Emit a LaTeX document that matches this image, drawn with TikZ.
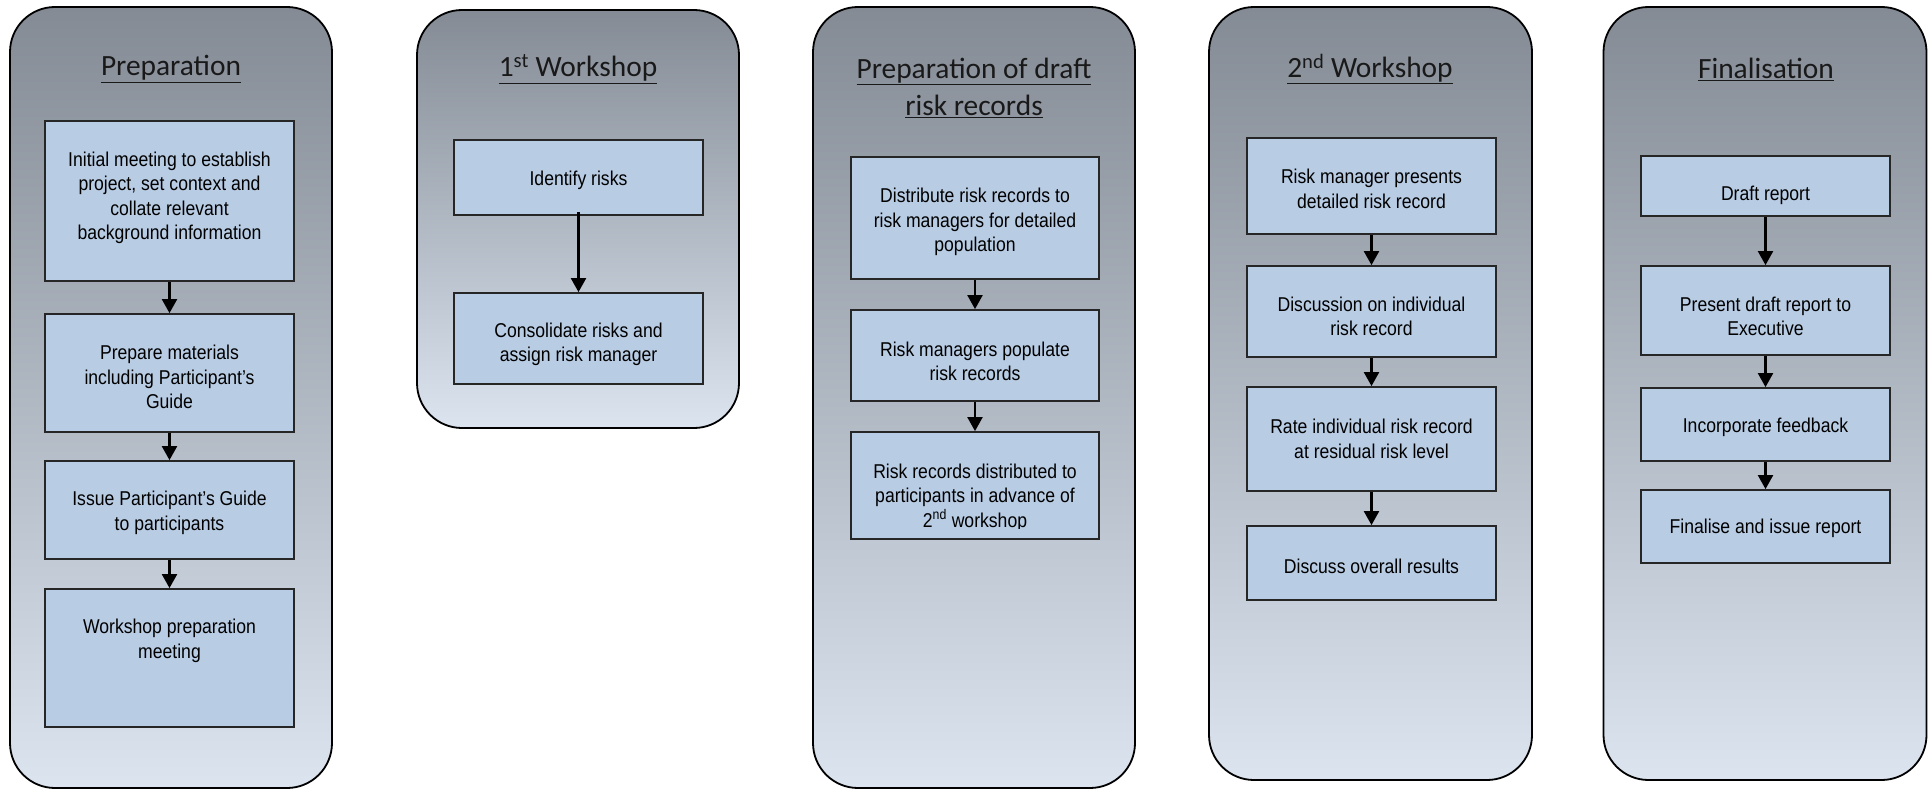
\documentclass[tikz,border=0pt]{standalone}
\usepackage{fontspec}
\usetikzlibrary{arrows.meta}
\newfontfamily\narrowfont{Liberation Sans}[FakeStretch=0.88]
\newfontfamily\titlefont{Carlito}
\definecolor{panTop}{HTML}{848B95}
\definecolor{panBot}{HTML}{DBE4EF}
\definecolor{boxFill}{HTML}{B8CCE4}
\tikzset{
  panel/.style={draw=black, line width=1.8pt, rounded corners=45pt, top color=panTop, bottom color=panBot, inner sep=0pt},
  stepbox/.style={draw=black!85, line width=1.8pt, fill=boxFill, inner sep=0pt},
  steptext/.style={align=center, font=\narrowfont\fontsize{20}{24.5}\selectfont, text=black, inner sep=0pt},
  ttl/.style={align=center, font=\titlefont\fontsize{29.4}{37}\selectfont, text=black!90, inner sep=0pt},
  arr/.style={line width=2.2pt, -{Triangle[length=14pt,width=15pt]}}
}
\begin{document}
\begin{tikzpicture}[x=1pt,y=-1pt]
\useasboundingbox (0,0) rectangle (1928,789);
% panels
\node[panel, minimum width=322pt, minimum height=781pt] (p1) at (171,397.5) {};
\node[panel, minimum width=322pt, minimum height=418pt] (p2) at (578,219) {};
\node[panel, minimum width=322pt, minimum height=781pt] (p3) at (974,397.5) {};
\node[panel, minimum width=323pt, minimum height=773pt] (p4) at (1370.5,393.5) {};
\node[panel, minimum width=323pt, minimum height=773pt] (p5) at (1765,393.5) {};
% titles
\node[ttl] (t1) at (171,69) {\underline{Preparation}};
\node[ttl] (t2) at (578,69) {\underline{1\textsuperscript{st} Workshop}};
\node[ttl] (t3) at (974,87.5) {\underline{Preparation of draft}\\\underline{risk records}};
\node[ttl] (t4) at (1370,69) {\underline{2\textsuperscript{nd} Workshop}};
\node[ttl] (t5) at (1766,69) {\underline{Finalisation}};
% Panel 1
\node[stepbox, minimum width=249pt, minimum height=160pt] (a1) at (169.5,201) {};
\node[steptext] (a1t) at ([yshift=3pt]a1.center) {Initial meeting to establish\\project, set context and\\collate relevant\\background information};
\node[stepbox, minimum width=249pt, minimum height=118pt] (a2) at (169.5,373) {};
\node[steptext] (a2t) at ([yshift=-4pt]a2.center) {Prepare materials\\including Participant’s\\Guide};
\node[stepbox, minimum width=249pt, minimum height=98pt] (a3) at (169.5,510) {};
\node[steptext] (a3t) at ([yshift=-3pt]a3.center) {Issue Participant’s Guide\\to participants};
\node[stepbox, minimum width=249pt, minimum height=138pt] (a4) at (169.5,658) {};
\node[steptext] (a4t) at ([yshift=17pt]a4.center) {Workshop preparation\\meeting};
\draw[arr] (a1.south) -- (a2.north);
\draw[arr] (a2.south) -- (a3.north);
\draw[arr] (a3.south) -- (a4.north);
% Panel 2
\node[stepbox, minimum width=249pt, minimum height=75pt] (b1) at (578.5,177.5) {};
\node[steptext] (b1t) at ([yshift=-3pt]b1.center) {Identify risks};
\node[stepbox, minimum width=249pt, minimum height=91pt] (b2) at (578.5,338.5) {};
\node[steptext] (b2t) at ([yshift=-6pt]b2.center) {Consolidate risks and\\assign risk manager};
\draw[arr] ([yshift=4pt]b1.south) -- (b2.north);
% Panel 3
\node[stepbox, minimum width=248pt, minimum height=122pt] (c1) at (975,218) {};
\node[steptext] (c1t) at ([yshift=-4pt]c1.center) {Distribute risk records to\\risk managers for detailed\\population};
\node[stepbox, minimum width=248pt, minimum height=91pt] (c2) at (975,355.5) {};
\node[steptext] (c2t) at ([yshift=-6pt]c2.center) {Risk managers populate\\risk records};
\node[stepbox, minimum width=248pt, minimum height=107pt] (c3) at (975,485.5) {};
\begin{scope}
\clip ([xshift=2pt,yshift=-2pt]c3.north west) rectangle ([xshift=-2pt,yshift=11pt]c3.south east);
\node[steptext] (c3t) at ([yshift=-12pt]c3.center) {Risk records distributed to\\participants in advance of\\2\textsuperscript{nd} workshop};
\end{scope}
\draw[arr] (c1.south) -- (c2.north);
\draw[arr] (c2.south) -- (c3.north);
% Panel 4
\node[stepbox, minimum width=249pt, minimum height=96pt] (d1) at (1371.5,186) {};
\node[steptext] (d1t) at ([yshift=-3pt]d1.center) {Risk manager presents\\detailed risk record};
\node[stepbox, minimum width=249pt, minimum height=91pt] (d2) at (1371.5,311.5) {};
\node[steptext] (d2t) at ([yshift=-5pt]d2.center) {Discussion on individual\\risk record};
\node[stepbox, minimum width=249pt, minimum height=104pt] (d3) at (1371.5,439) {};
\node[steptext] (d3t) at (d3.center) {Rate individual risk record\\at residual risk level};
\node[stepbox, minimum width=249pt, minimum height=74pt] (d4) at (1371.5,563) {};
\node[steptext] (d4t) at ([yshift=-3pt]d4.center) {Discuss overall results};
\draw[arr] (d1.south) -- (d2.north);
\draw[arr] (d2.south) -- (d3.north);
\draw[arr] (d3.south) -- (d4.north);
% Panel 5
\node[stepbox, minimum width=249pt, minimum height=60pt] (e1) at (1765.5,186) {};
\node[steptext] (e1t) at ([yshift=-9pt]e1.center) {Draft report};
\node[stepbox, minimum width=249pt, minimum height=89pt] (e2) at (1765.5,310.5) {};
\node[steptext] (e2t) at ([yshift=-6pt]e2.center) {Present draft report to\\Executive};
\node[stepbox, minimum width=249pt, minimum height=73pt] (e3) at (1765.5,424.5) {};
\node[steptext] (e3t) at ([yshift=-3pt]e3.center) {Incorporate feedback};
\node[stepbox, minimum width=249pt, minimum height=73pt] (e4) at (1765.5,526.5) {};
\node[steptext] (e4t) at ([yshift=-2pt]e4.center) {Finalise and issue report};
\draw[arr] (e1.south) -- (e2.north);
\draw[arr] (e2.south) -- (e3.north);
\draw[arr] (e3.south) -- (e4.north);
\end{tikzpicture}
\end{document}
